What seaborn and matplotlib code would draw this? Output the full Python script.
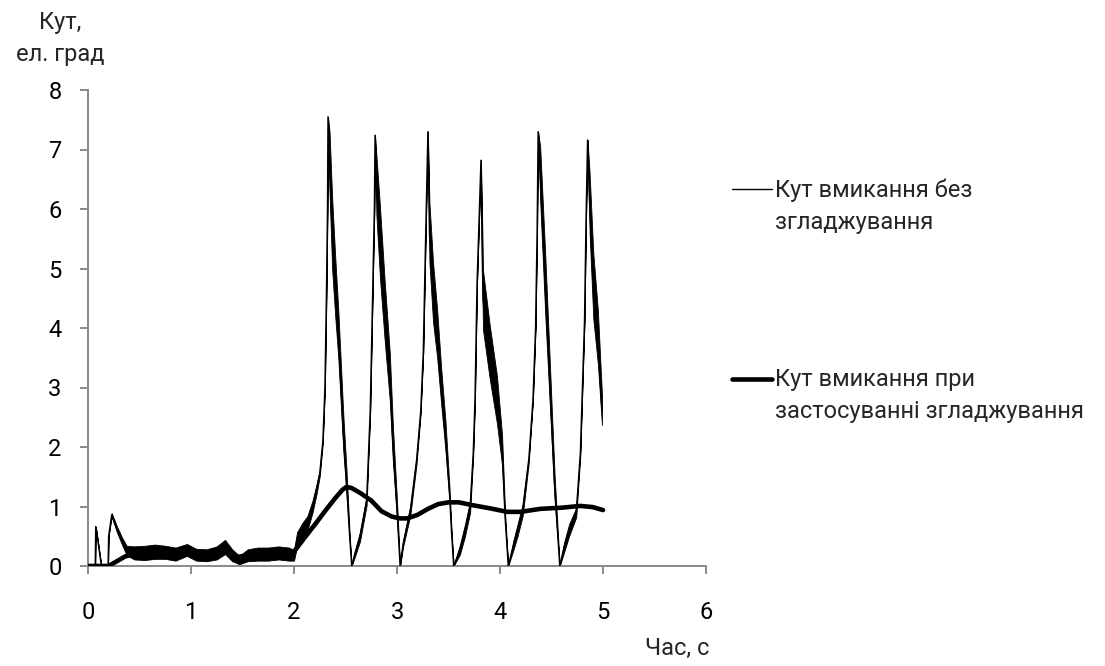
import numpy as np
import pandas as pd
import matplotlib
matplotlib.use("Agg")
import matplotlib.pyplot as plt
import seaborn as sns
from matplotlib.lines import Line2D

# ---------------- data ----------------
# Thin line: switching angle without smoothing (time, value, visual noise half-width)
thin_t = [0.00, 0.07, 0.075, 0.085, 0.13, 0.195, 0.20, 0.23, 0.28, 0.33, 0.375,
          0.45, 0.55, 0.65, 0.75, 0.85, 0.96, 1.05, 1.15, 1.25, 1.33, 1.40,
          1.47, 1.55, 1.65, 1.75, 1.85, 1.95, 2.00,
          2.03, 2.08, 2.13, 2.18, 2.22, 2.25, 2.28, 2.30, 2.315, 2.325, 2.33,
          2.345, 2.37, 2.40, 2.43, 2.48, 2.51, 2.54, 2.56,
          2.59, 2.64, 2.705, 2.74, 2.76, 2.78, 2.787,
          2.80, 2.835, 2.88, 2.93, 2.96, 3.00, 3.03,
          3.06, 3.13, 3.19, 3.23, 3.255, 3.275, 3.29, 3.30,
          3.315, 3.35, 3.39, 3.43, 3.47, 3.51, 3.53, 3.55,
          3.61, 3.66, 3.71, 3.74, 3.757, 3.777, 3.80, 3.815,
          3.825, 3.835, 3.90, 3.97, 4.02, 4.05, 4.08,
          4.13, 4.17, 4.22, 4.28, 4.32, 4.345, 4.36, 4.37,
          4.39, 4.44, 4.47, 4.50, 4.53, 4.58,
          4.62, 4.67, 4.74, 4.78, 4.80, 4.82, 4.835, 4.85,
          4.87, 4.906, 4.95, 4.99]
thin_v = [0.00, 0.00, 0.66, 0.55, 0.00, 0.00, 0.50, 0.86, 0.62, 0.42, 0.26,
          0.22, 0.22, 0.24, 0.23, 0.20, 0.27, 0.19, 0.18, 0.22, 0.32, 0.18,
          0.10, 0.18, 0.20, 0.20, 0.22, 0.20, 0.18,
          0.45, 0.60, 0.72, 1.00, 1.30, 1.56, 2.10, 3.00, 4.60, 6.00, 7.55,
          6.80, 5.60, 4.70, 3.90, 2.20, 1.40, 0.50, 0.00,
          0.20, 0.49, 1.10, 2.62, 4.30, 6.00, 7.24,
          6.40, 5.43, 4.30, 3.18, 2.06, 0.94, 0.00,
          0.38, 0.94, 1.78, 2.60, 3.60, 5.30, 6.50, 7.30,
          5.60, 4.60, 3.90, 3.00, 2.20, 1.20, 0.55, 0.00,
          0.27, 0.60, 1.00, 1.90, 2.80, 4.75, 6.00, 6.82,
          5.50, 4.47, 3.60, 2.80, 1.95, 0.80, 0.00,
          0.35, 0.60, 0.94, 1.80, 2.80, 4.00, 5.60, 7.30,
          6.60, 4.70, 3.58, 2.45, 1.33, 0.00,
          0.30, 0.60, 0.90, 1.90, 3.00, 4.10, 5.80, 7.16,
          6.10, 4.70, 3.85, 2.62]
thin_noise = [0.00, 0.00, 0.00, 0.00, 0.00, 0.00, 0.00, 0.03, 0.05, 0.06, 0.08,
              0.11, 0.12, 0.12, 0.11, 0.11, 0.10, 0.10, 0.10, 0.11, 0.12, 0.10,
              0.07, 0.10, 0.11, 0.11, 0.11, 0.11, 0.09,
              0.12, 0.12, 0.12, 0.10, 0.08, 0.05, 0.03, 0.00, 0.00, 0.00, 0.00,
              0.50, 0.60, 0.50, 0.40, 0.30, 0.20, 0.05, 0.00,
              0.05, 0.08, 0.08, 0.03, 0.00, 0.00, 0.00,
              0.50, 0.60, 0.50, 0.40, 0.30, 0.15, 0.00,
              0.05, 0.08, 0.06, 0.03, 0.00, 0.00, 0.00, 0.00,
              0.50, 0.50, 0.40, 0.30, 0.25, 0.10, 0.05, 0.00,
              0.08, 0.10, 0.10, 0.05, 0.00, 0.00, 0.00, 0.00,
              0.50, 0.50, 0.45, 0.40, 0.25, 0.08, 0.00,
              0.08, 0.10, 0.10, 0.05, 0.00, 0.00, 0.00, 0.00,
              0.45, 0.50, 0.40, 0.30, 0.20, 0.00,
              0.08, 0.10, 0.08, 0.04, 0.00, 0.00, 0.00, 0.00,
              0.50, 0.55, 0.45, 0.25]

# Thick line: switching angle with smoothing
smooth_t = [0.00, 0.20, 0.28, 0.36, 0.45, 0.60, 0.80, 1.00, 1.20, 1.33, 1.45,
            1.60, 1.80, 1.95, 2.00, 2.10, 2.20, 2.30, 2.40, 2.47, 2.51, 2.56,
            2.65, 2.75, 2.85, 2.95, 3.03, 3.10, 3.20, 3.30, 3.40, 3.50, 3.60,
            3.74, 3.90, 4.07, 4.20, 4.39, 4.60, 4.78, 4.90, 5.00]
smooth_v = [0.00, 0.00, 0.08, 0.16, 0.20, 0.22, 0.22, 0.24, 0.21, 0.28, 0.15,
            0.20, 0.21, 0.22, 0.24, 0.47, 0.69, 0.92, 1.14, 1.28, 1.33, 1.31,
            1.22, 1.10, 0.92, 0.83, 0.80, 0.80, 0.86, 0.96, 1.04, 1.07, 1.07,
            1.02, 0.97, 0.91, 0.91, 0.96, 0.98, 1.01, 0.99, 0.94]

x_ticks = [0, 1, 2, 3, 4, 5, 6]
y_ticks = [0, 1, 2, 3, 4, 5, 6, 7, 8]

label_thin = "Кут вмикання без\nзгладжування"
label_smooth = "Кут вмикання при\nзастосуванні згладжування"
y_title = "Кут,\nел. град"
x_title = "Час, с"

assert len(thin_t) == len(thin_v) == len(thin_noise)
assert len(smooth_t) == len(smooth_v)

# ---------------- style ----------------
sns.set_theme(style="white")
FONT = ["Roboto", "DejaVu Sans"]
plt.rcParams["font.family"] = FONT
FS = 17
GRAY = "#898989"

fig = plt.figure(figsize=(11.05, 6.66), dpi=100)
ax = fig.add_axes([88 / 1105, 100 / 666, 618 / 1105, 476 / 666])

thin_df = pd.DataFrame({"t": thin_t, "v": thin_v, "n": thin_noise})
smooth_df = pd.DataFrame({"t": smooth_t, "v": smooth_v})

ax.fill_between(thin_df["t"], thin_df["v"] - thin_df["n"], thin_df["v"] + thin_df["n"],
                color="black", lw=0.6, zorder=2)
sns.lineplot(data=thin_df, x="t", y="v", ax=ax, estimator=None, sort=False,
             color="black", lw=1.0, zorder=3)
sns.lineplot(data=smooth_df, x="t", y="v", ax=ax, estimator=None, sort=False,
             color="black", lw=3.3, zorder=4)

ax.set_xlim(0, 6)
ax.set_ylim(0, 8)
ax.set_xticks(x_ticks)
ax.set_yticks(y_ticks)
ax.set_xticklabels([str(v) for v in x_ticks])
ax.set_yticklabels([str(v) for v in y_ticks])
ax.set_xlabel("")
ax.set_ylabel("")

for s in ["top", "right"]:
    ax.spines[s].set_visible(False)
for s in ["left", "bottom"]:
    ax.spines[s].set_color(GRAY)
    ax.spines[s].set_linewidth(1.4)
ax.tick_params(axis="x", direction="out", length=6, width=1.4, color=GRAY,
               pad=19, labelsize=FS, labelcolor="black", bottom=True)
ax.tick_params(axis="y", direction="out", length=6, width=1.4, color=GRAY,
               pad=13, labelsize=FS, labelcolor="black", left=True)

# axis titles
fig.text(60 / 1105, 1 - 38 / 666, y_title, ha="center", va="center",
         fontsize=FS, linespacing=1.5)
fig.text(677 / 1105, 1 - 648 / 666, x_title, ha="center", va="center", fontsize=FS)

# legend (drawn on the figure, handle aligned to the first text line)
def legend_entry(y_px, lw, text):
    fig.add_artist(Line2D([732 / 1105, 772 / 1105], [1 - y_px / 666, 1 - y_px / 666],
                          color="black", lw=lw, transform=fig.transFigure))
    fig.text(775 / 1105, 1 - (y_px - 11) / 666, text, ha="left", va="top",
             fontsize=FS, linespacing=1.5)

legend_entry(189, 1.0, label_thin)
legend_entry(379, 3.3, label_smooth)

fig.savefig("out.png", dpi=100, facecolor="white")
